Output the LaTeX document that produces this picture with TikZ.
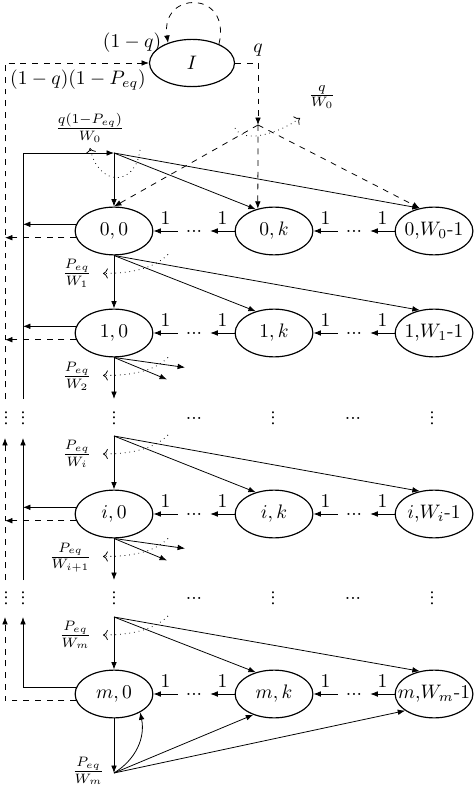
\documentclass[tikz,border=0pt]{standalone}
\usepackage{tikz}
\usetikzlibrary{arrows.meta,positioning,calc,shapes.geometric}
\newcommand{\stlab}[1]{\makebox[0pt]{#1}}
\tikzset{
  % state ellipse
  snode/.style={ellipse,draw,semithick,minimum width=1.4cm,
    minimum height=0.86cm,inner sep=0pt},
  % idle state
  inode/.style={ellipse,draw,semithick,minimum width=1.53cm,
    minimum height=0.85cm,inner sep=0pt},
  % arrows
  arr/.style={-{Latex[length=3.8pt,width=2.9pt]}},
  arrd/.style={arr,dashed},
  arrp/.style={->,dotted},
  % dots
  hdot/.style={inner xsep=4pt,inner ysep=0pt},
  vdot/.style={rotate=90,inner sep=0pt},
}
\begin{document}
\begin{tikzpicture}[x=0.018cm,y=-0.018cm,node distance=1.46cm]
  \useasboundingbox (0,0) rectangle (474,790);

  % idle state
  \node[inode] (I) at (192,63) {$I$};

  % backoff states
  \node[snode] (n0-0) at (114,231) {\stlab{$0,0$}};
  \node[snode,right=of n0-0] (n0-k) {\stlab{$0,k$}};
  \node[snode,right=of n0-k] (n0-w) {\stlab{$0$,$W_0$-1}};

  \node[snode] (n1-0) at (114,333) {\stlab{$1,0$}};
  \node[snode,right=of n1-0] (n1-k) {\stlab{$1,k$}};
  \node[snode,right=of n1-k] (n1-w) {\stlab{$1$,$W_1$-1}};

  \node[snode] (ni-0) at (114,514) {\stlab{$i,0$}};
  \node[snode,right=of ni-0] (ni-k) {\stlab{$i,k$}};
  \node[snode,right=of ni-k] (ni-w) {\stlab{$i$,$W_i$-1}};

  \node[snode] (nm-0) at (114,694) {\stlab{$m,0$}};
  \node[snode,right=of nm-0] (nm-k) {\stlab{$m,k$}};
  \node[snode,right=of nm-k] (nm-w) {\stlab{$m$,$W_m$-1}};

  % helper points
  \coordinate (dL) at (5,0);
  \coordinate (sL) at (23,0);
  \coordinate (J) at (258,125);
  \coordinate (t0) at (114,153);
  \coordinate (ti) at (114,436);
  \coordinate (tm) at (114,617);
  \coordinate (b1) at (114,399);
  \coordinate (bi) at (114,580);
  \coordinate (bm) at (114,773);
  \coordinate (g1) at (0,399);
  \coordinate (g2) at (0,438);
  \coordinate (g3) at (0,580);
  \coordinate (g4) at (0,617);

  % idle state loops
  \draw[arrd] (I.35) .. controls (232,-10) and (160,-10) .. (I.140);
  \node[left] (l1q) at (I.140) {$(1-q)$};
  \draw[arrd] (I.east) -| node[pos=0.5,above] (lq) {$q$} (J);
  \draw[arrd] (J) -- (n0-0.north);
  \draw[arrd] (J) -- (n0-k.126);
  \draw[arrd] (J) -- (n0-w.122);
  \draw[arrp] ([shift={(-23,3)}]J) .. controls +(8,16) and +(-22,16) .. ([shift={(42,-7)}]J);
  \node (lqw) at (322,97) {$\frac{q}{W_0}$};

  % return paths on the left
  \draw[arrd] (dL |- g1) |- (I.west);
  \node (lfail) at (78,80) {$(1-q)(1-P_{eq})$};
  \draw[arr] (sL |- g1) |- (t0);
  \draw[arr] (sL |- g3) -- (sL |- g2);
  \draw[arrd] (dL |- g3) -- (dL |- g2);
  \foreach \r in {0,1,i} {
    \draw[arr] (n\r-0.170) -- (n\r-0.170 -| sL);
    \draw[arrd] (n\r-0.190) -- (n\r-0.190 -| dL);
  }
  \draw[arr] (nm-0.170) -| (sL |- g4);
  \draw[arrd] (nm-0.190) -| (dL |- g4);

  % first stage
  \draw[arr] (t0) -- (n0-0.north);
  \draw[arr] (t0) -- (n0-k.130);
  \draw[arr] (t0) -- (n0-w.122);
  \draw[arrp] ([shift={(26,-3)}]t0) .. controls +(-5,38) and +(8,38) .. ([shift={(-24,-5)}]t0);
  \node (lt0) at (90,128) {$\frac{q(1-P_{eq})}{W_0}$};

  % later stages
  \foreach \src/\r/\w in {n0-0.south/1/W_1,ti/i/W_i,tm/m/W_m} {
    \draw[arr] (\src) -- (n\r-0.north);
    \draw[arr] (\src) -- (n\r-k.130);
    \draw[arr] (\src) -- (n\r-w.122);
    \draw[arrp] ([shift={(54,-1)}]\src) .. controls +(-15,15) and +(25,0) .. ([shift={(-11,18)}]\src);
    \node[left,inner sep=0pt] (lp\r) at ([shift={(-22,18)}]\src) {$\frac{P_{eq}}{\w}$};
  }

  % leaving stages 1 and i
  \foreach \r/\b/\w in {1/b1/W_2,i/bi/W_{i+1}} {
    \draw[arr] (n\r-0.south) -- (\b);
    \draw[arr] (n\r-0.south) -- +(71,10);
    \draw[arr] (n\r-0.south) -- +(53,22);
    \draw[arrp] ([shift={(54,0)}]n\r-0.south) .. controls +(-15,15) and +(25,0) .. ([shift={(-11,18)}]n\r-0.south);
    \node[left,inner sep=0pt] (lb\r) at ([shift={(-22,19)}]n\r-0.south) {$\frac{P_{eq}}{\w}$};
  }

  % last stage
  \draw[arr] (nm-0.south) -- (bm);
  \draw[arr] (bm) to[bend right=35] (nm-0.-35);
  \draw[arr] (bm) -- (nm-k.-135);
  \draw[arr] (bm) -- (nm-w.-150);
  \node[left,inner sep=0pt] (lbm) at ([shift={(-9,-2)}]bm) {$\frac{P_{eq}}{W_m}$};

  % countdown in each stage
  \foreach \r in {0,1,i,m} {
    \node[hdot] (d\r-a) at ($(n\r-0)!0.5!(n\r-k)$) {...};
    \node[hdot] (d\r-b) at ($(n\r-k)!0.5!(n\r-w)$) {...};
    \draw[arr] (d\r-a.west) -- node[above] {$1$} (n\r-0.east);
    \draw[arr] (n\r-k.west) -- node[above] {$1$} (d\r-a.east);
    \draw[arr] (d\r-b.west) -- node[above] {$1$} (n\r-k.east);
    \draw[arr] (n\r-w.west) -- node[above] {$1$} (d\r-b.east);
  }

  % skipped stages
  \foreach \yy in {418,598} {
    \foreach \xx in {6,23,114,273,432}
      \node[vdot] (v\xx-\yy) at (\xx,\yy) {...};
    \foreach \xx in {194,353}
      \node[hdot] (h\xx-\yy) at (\xx,\yy) {...};
  }

\end{tikzpicture}
\end{document}
